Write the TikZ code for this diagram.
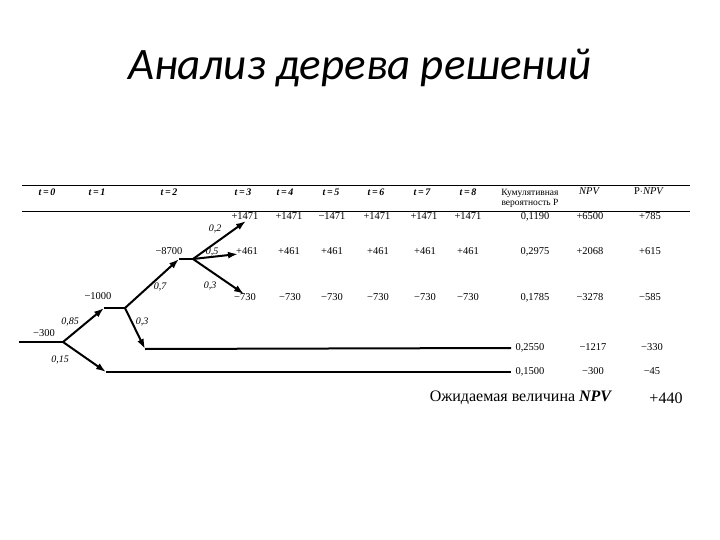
\documentclass[tikz,border=0pt]{standalone}
\usepackage{fontspec}
\setmainfont{Liberation Serif}
\newfontfamily\titlefont{Carlito}
\usetikzlibrary{arrows.meta}

\tikzset{
  branch/.style={line width=2pt, -{Latex[length=10pt,width=7pt]}},
  stem/.style={line width=2pt},
  prob/.style={font=\itshape\fontsize{10}{11}\selectfont, inner sep=1pt, text height=7pt, text depth=2pt},
  val/.style={font=\fontsize{10.5}{11}\selectfont, inner sep=1pt, text height=7.5pt, text depth=2pt},
  head/.style={font=\bfseries\itshape\fontsize{10}{11}\selectfont, inner sep=1pt},
}

\begin{document}
\begin{tikzpicture}[x=1pt, y=-1pt]
	\useasboundingbox (0,0) rectangle (720,540);
	\node[font=\titlefont\itshape\fontsize{45}{50}\selectfont] (title) at (360,68) {Анализ дерева решений};
	
	% table rules
	\draw[thick] (22,185) -- (690,185);
	\draw[thick] (22,211) -- (690,211);
	
	% header
	\foreach \t/\x in {0/47,1/97,2/169,3/243,4/285,5/331,6/376,7/422,8/468}
		\node[head] (h\t) at (\x,192) {\textit{t}\,=\,\t};
	\node[align=center, inner sep=1pt, font=\fontsize{9.5}{10}\selectfont] (hp) at (530,198) {Кумулятивная\\вероятность P};
	\node[val, font=\itshape\fontsize{10.5}{11}\selectfont] (hnpv) at (589,192) {NPV};
	\node[val] (hpnpv) at (649,192) {P$\cdot$\textit{NPV}};
	
	% rows
	\foreach \v/\x [count=\i] in {+1471/245,+1471/289,−1471/332,+1471/377,+1471/424,+1471/468,0{,}1190/535,+6500/590,+785/650}
		\node[val] (ra\i) at (\x,217) {\v};
	\foreach \v/\x [count=\i] in {+461/247,+461/289,+461/332,+461/378,+461/425,+461/468,0{,}2975/535,+2068/590,+615/650}
		\node[val] (rb\i) at (\x,252) {\v};
	\foreach \v/\x [count=\i] in {−730/245,−730/290,−730/332,−730/378,−730/425,−730/468,0{,}1785/535,−3278/590,−585/650}
		\node[val] (rc\i) at (\x,298) {\v};
	\node[val] (rd1) at (530,348) {0,2550};
	\node[val] (rd2) at (593,348) {−1217};
	\node[val] (rd3) at (652,348) {−330};
	\node[val] (re1) at (530,372) {0,1500};
	\node[val] (re2) at (593,372) {−300};
	\node[val] (re3) at (652,372) {−45};
	
	\node[font=\fontsize{16}{18}\selectfont] (expect) at (521,398) {Ожидаемая величина \textbf{\textit{NPV}}};
	\node[font=\fontsize{16}{18}\selectfont] (total) at (666,398) {+440};
	
	% tree
	\coordinate (s) at (19,342);
	\coordinate (n0) at (63,342);
	\coordinate (a1) at (104,308);
	\coordinate (n1) at (125,308);
	\coordinate (b1) at (106,372);
	\coordinate (e1) at (511,372);
	\coordinate (a2) at (179,259);
	\coordinate (n2) at (193,259);
	\coordinate (b2) at (145,349);
	\coordinate (e2) at (511,348);
	\coordinate (c1) at (246,221);
	\coordinate (c2) at (238,254);
	\coordinate (c3) at (244,294);
	
	\draw[stem] (s) -- (n0);
	\draw[branch] (n0) -- (a1);
	\draw[stem] (a1) -- (n1);
	\draw[branch] (n0) -- (b1);
	\draw[stem] (b1) -- (e1);
	\draw[branch] (n1) -- (a2);
	\draw[stem] (a2) -- (n2);
	\draw[branch] (n1) -- (b2);
	\draw[stem] (b2) -- (e2);
	\draw[branch] (n2) -- (c1);
	\draw[branch] (n2) -- (c2);
	\draw[branch] (n2) -- (c3);
	
	\node[val] (v0) at (44,334) {−300};
	\node[val] (v1) at (98,297) {−1000};
	\node[val] (v2) at (169,252) {−8700};
	
	\node[prob] (p85) at (70,322) {0,85};
	\node[prob] (p15) at (60,360) {0,15};
	\node[prob] (p7) at (160,287) {0,7};
	\node[prob] (p3a) at (142,322) {0,3};
	\node[prob] (p2) at (215,229) {0,2};
	\node[prob] (p5) at (212,252) {0,5};
	\node[prob] (p3b) at (210,286) {0,3};
\end{tikzpicture}
\end{document}
